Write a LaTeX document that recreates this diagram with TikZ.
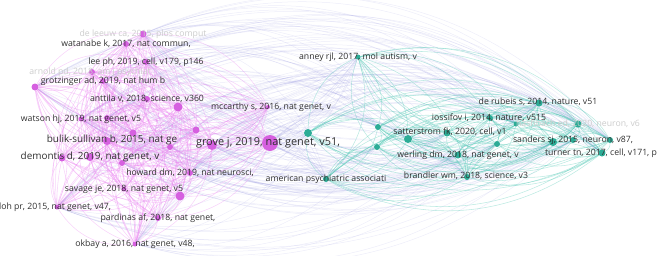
\documentclass[tikz,border=0pt]{standalone}
\usepackage{fontspec}
\setmainfont{Open Sans}
\usepackage{tikz}
\usetikzlibrary{
  backgrounds,
  calc
}
\definecolor{pinknode}{RGB}{214,96,224}
\definecolor{pinkedge}{RGB}{234,130,240}
\definecolor{tealnode}{RGB}{44,172,150}
\definecolor{tealedge}{RGB}{80,200,180}
\definecolor{crossedge}{RGB}{150,150,222}
\definecolor{labeltext}{RGB}{48,48,48}

\begin{document}
\begin{tikzpicture}[x=1pt, y=-1pt,
    pnode/.style={circle, fill=pinknode, inner sep=0pt, minimum size=#1},
    tnode/.style={circle, fill=tealnode, inner sep=0pt, minimum size=#1},
    pedge/.style={draw=pinkedge, line width=0.55pt, opacity=0.35},
    tedge/.style={draw=tealedge, line width=0.55pt, opacity=0.38},
    xedge/.style={draw=crossedge, line width=0.5pt, opacity=0.17},
    lbl/.style={text=labeltext, inner sep=0pt, font=\fontsize{8.7}{9}\selectfont},
    biglbl/.style={lbl, font=\fontsize{9.9}{10}\selectfont},
    grovelbl/.style={lbl, font=\fontsize{10.9}{11}\selectfont},
    faintlbl/.style={lbl, text=black!20}]
				\useasboundingbox (0,0) rectangle (662,255);
				% pink cluster
				\node[pnode=7] (deleeuw) at (143,34) {};
				\node[pnode=6] (watanabe) at (126,44) {};
				\node[pnode=6] (leeph) at (146,62) {};
				\node[pnode=6] (arnold) at (92,72) {};
				\node[pnode=6] (grotz) at (103,81) {};
				\node[pnode=6] (anttila) at (147,99) {};
				\node[pnode=5] (watson) at (81,119) {};
				\node[pnode=8] (bulik) at (107,141) {};
				\node[pnode=16] (grove) at (270,143) {};
				\node[pnode=8] (demontis) at (90,157) {};
				\node[pnode=6] (howard) at (190,173) {};
				\node[pnode=5] (savage) at (124,189) {};
				\node[pnode=5] (loh) at (57,207) {};
				\node[pnode=6] (pardinas) at (158,218) {};
				\node[pnode=5] (okbay) at (135,244) {};
				\node[pnode=4] (mccarthy) at (268,107) {};
				\node[pnode=7] (pa) at (35,87) {};
				\node[pnode=9] (pb) at (178,107) {};
				\node[pnode=6] (pc) at (107,118) {};
				\node[pnode=7] (pd) at (133,133) {};
				\node[pnode=6] (pe) at (170,147) {};
				\node[pnode=7] (pf) at (196,130) {};
				\node[pnode=10] (pg) at (212,145) {};
				\node[pnode=7] (ph) at (62,158) {};
				\node[pnode=6] (pi) at (122,163) {};
				\node[pnode=9] (pj) at (180,196) {};
				% teal cluster
				\node[tnode=5] (anney) at (358,57) {};
				\node[tnode=6] (amer) at (326,179) {};
				\node[tnode=7] (satter) at (447,133) {};
				\node[tnode=6] (iossifov) at (490,118) {};
				\node[tnode=7] (derubeis) at (539,103) {};
				\node[tnode=7] (hashbach) at (578,124) {};
				\node[tnode=6] (sanders) at (573,140) {};
				\node[tnode=7] (turner) at (602,153) {};
				\node[tnode=7] (werling) at (458,155) {};
				\node[tnode=6] (brandler) at (467,177) {};
				\node[tnode=8] (ta) at (308,133) {};
				\node[tnode=6] (tb) at (378,127) {};
				\node[tnode=6] (tc) at (377,147) {};
				\node[tnode=8] (td) at (408,139) {};
				\node[tnode=6] (te) at (497,144) {};
				\node[tnode=5] (tf) at (516,124) {};
				\node[tnode=8] (tg) at (553,142) {};
				\node[tnode=6] (th) at (610,140) {};
				% labels
				\node[faintlbl] (l-deleeuw) at (deleeuw) {de leeuw ca, 2015, plos comput};
				\node[lbl] (l-watanabe) at (watanabe) {watanabe k, 2017, nat commun,};
				\node[lbl] (l-leeph) at (leeph) {lee ph, 2019, cell, v179, p146};
				\node[faintlbl] (l-arnold) at (90,72) {arnold pd, 2018, am j psychiat};
				\node[lbl] (l-grotz) at (grotz) {grotzinger ad, 2019, nat hum b};
				\node[lbl] (l-anttila) at (anttila) {anttila v, 2018, science, v360};
				\node[lbl] (l-watson) at (watson) {watson hj, 2019, nat genet, v5};
				\node[biglbl] (l-bulik) at (112,140) {bulik-sullivan b, 2015, nat ge};
				\node[grovelbl] (l-grove) at (268,143) {grove j, 2019, nat genet, v51,};
				\node[biglbl] (l-demontis) at (demontis) {demontis d, 2019, nat genet, v};
				\node[lbl] (l-howard) at (howard) {howard dm, 2019, nat neurosci,};
				\node[lbl] (l-savage) at (savage) {savage je, 2018, nat genet, v5};
				\node[lbl] (l-loh) at (55,207) {loh pr, 2015, nat genet, v47,};
				\node[lbl] (l-pardinas) at (pardinas) {pardinas af, 2018, nat genet,};
				\node[lbl] (l-okbay) at (okbay) {okbay a, 2016, nat genet, v48,};
				\node[lbl] (l-mccarthy) at (271,107) {mccarthy s, 2016, nat genet, v};
				\node[lbl] (l-anney) at (anney) {anney rjl, 2017, mol autism, v};
				\node[lbl] (l-amer) at (amer) {american psychiatric associati};
				\node[lbl] (l-satter) at (450,132) {satterstrom fk, 2020, cell, v1};
				\node[lbl] (l-iossifov) at (489,118) {iossifov i, 2014, nature, v515};
				\node[lbl] (l-derubeis) at (538,102) {de rubeis s, 2014, nature, v51};
				\node[faintlbl] (l-hashbach) at (hashbach) {hashbach ed, 2020, neuron, v6};
				\node[lbl] (l-sanders) at (sanders) {sanders sj, 2015, neuron, v87,};
				\node[lbl] (l-turner) at (601,153) {turner tn, 2017, cell, v171, p};
				\node[lbl] (l-werling) at (werling) {werling dm, 2018, nat genet, v};
				\node[lbl] (l-brandler) at (466,176) {brandler wm, 2018, science, v3};
				% links
				\def\pinkset{deleeuw,watanabe,leeph,arnold,grotz,anttila,watson,bulik,grove,demontis,howard,savage,loh,pardinas,okbay,mccarthy,pa,pb,pc,pd,pe,pf,pg,ph,pi,pj}
				\def\tealset{anney,amer,satter,iossifov,derubeis,hashbach,sanders,turner,werling,brandler,ta,tb,tc,td,te,tf,tg,th}
				\begin{scope}[on background layer]
				\clip (0,0) rectangle (662,255);
				% between the two clusters: only part of the pairs
				\foreach \a [count=\i] in \pinkset {
				  \foreach \b [count=\j] in \tealset {
				    \ifodd\i
				      \ifodd\numexpr\i+\j\relax
				        \draw[xedge] (\a) to[bend left=36] (\b);
				      \else
				        \draw[xedge] (\a) to[bend right=28] (\b);
				      \fi
				    \fi
				  }
				}
				\foreach \a [count=\i] in \pinkset {
				  \foreach \b [count=\j] in \pinkset {
				    \ifnum\j>\i
				      \ifodd\numexpr\i+\j\relax
				        \draw[pedge] (\a) to[bend left=32] (\b);
				      \else
				        \draw[pedge] (\a) to[bend right=32] (\b);
				      \fi
				    \fi
				  }
				}
				\foreach \a [count=\i] in \tealset {
				  \foreach \b [count=\j] in \tealset {
				    \ifnum\j>\i
				      \ifodd\numexpr\i+\j\relax
				        \draw[tedge] (\a) to[bend left=32] (\b);
				      \else
				        \draw[tedge] (\a) to[bend right=32] (\b);
				      \fi
				    \fi
				  }
				}
				\end{scope}
			\end{tikzpicture}
\end{document}
